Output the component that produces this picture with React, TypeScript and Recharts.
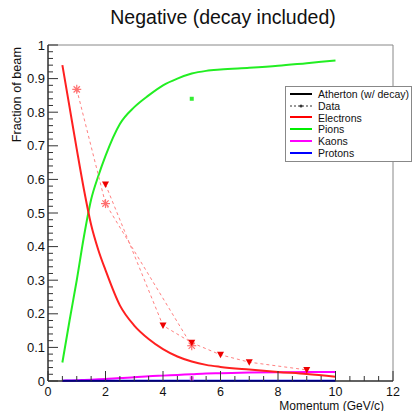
import { ComposedChart, Line, XAxis, YAxis, ReferenceArea, Label } from "recharts"

const FONT = "'Liberation Sans', Arial, Helvetica, sans-serif"

// model curves, fraction of beam vs momentum (GeV/c)
const momentum = [0.5, 0.75, 1, 1.25, 1.5, 1.75, 2, 2.5, 3, 3.5, 4, 4.5, 5, 5.5, 6, 7, 8, 9, 10]
const electrons = [0.94, 0.815, 0.69, 0.57, 0.465, 0.39, 0.33, 0.225, 0.165, 0.125, 0.095, 0.073, 0.058, 0.048, 0.042, 0.034, 0.027, 0.021, 0.013]
const pions = [0.055, 0.18, 0.3, 0.43, 0.54, 0.61, 0.67, 0.765, 0.815, 0.85, 0.88, 0.9, 0.915, 0.923, 0.927, 0.932, 0.938, 0.946, 0.954]
const kaons = [0.001, 0.0015, 0.002, 0.003, 0.004, 0.005, 0.006, 0.009, 0.011, 0.014, 0.016, 0.018, 0.02, 0.022, 0.023, 0.025, 0.026, 0.027, 0.027]
const protons = [0.001, 0.001, 0.001, 0.001, 0.001, 0.001, 0.001, 0.001, 0.001, 0.001, 0.001, 0.001, 0.001, 0.001, 0.001, 0.001, 0.001, 0.001, 0.001]

// measured points
const starMomentum = [1, 2, 5]
const starFraction = [0.868, 0.528, 0.105]
const triMomentum = [2, 4, 5, 6, 7, 9]
const triFraction = [0.585, 0.165, 0.114, 0.078, 0.056, 0.033]
const pionDataMomentum = [5]
const pionDataFraction = [0.84]
const kaonDataMomentum = [5]
const kaonDataFraction = [0.008]

const xMajor = [0, 2, 4, 6, 8, 10, 12]
const yMajor = [0, 0.1, 0.2, 0.3, 0.4, 0.5, 0.6, 0.7, 0.8, 0.9, 1]

const xTicks = Array.from({ length: 25 }, (_, i) => i / 2)
const yTicks = Array.from({ length: 51 }, (_, i) => Math.round(i * 2) / 100)

const legendItems = [
  { name: "Atherton (w/ decay)", color: "#000", kind: "line" },
  { name: "Data", color: "#000", kind: "data" },
  { name: "Electrons", color: "#ff0000", kind: "line" },
  { name: "Pions", color: "#00ee00", kind: "line" },
  { name: "Kaons", color: "#ff00ff", kind: "line" },
  { name: "Protons", color: "#0000ff", kind: "line" },
]

const pts = (xs: number[], ys: number[]) => xs.map((x, i) => ({ x, y: ys[i] }))

const XTick = (props: any) => {
  const { x, y, payload } = props
  const v = payload.value
  const major = xMajor.includes(v)
  return (
    <g>
      <line x1={x} x2={x} y1={y} y2={y - (major ? 10 : 5)} stroke="#333" strokeWidth={1} />
      {major && (
        <text x={x} y={y + 15} textAnchor="middle" fontSize={12.5} fontFamily={FONT} fill="#111">
          {v}
        </text>
      )}
    </g>
  )
}

const YTick = (props: any) => {
  const { x, y, payload } = props
  const v = payload.value
  const major = yMajor.some(m => Math.abs(m - v) < 1e-6)
  return (
    <g>
      <line x1={x} x2={x + (major ? 10 : 5)} y1={y} y2={y} stroke="#333" strokeWidth={1} />
      {major && (
        <text x={x - 3} y={y} dy="0.36em" textAnchor="end" fontSize={13} fontFamily={FONT} fill="#111">
          {v}
        </text>
      )}
    </g>
  )
}

const Star = (props: any) => {
  const { cx, cy } = props
  if (cx == null || cy == null) return <g />
  const r = 4.5
  const d = r * 0.7
  return (
    <g stroke="#ff7070" strokeWidth={1.2}>
      <line x1={cx - r} x2={cx + r} y1={cy} y2={cy} />
      <line x1={cx} x2={cx} y1={cy - r} y2={cy + r} />
      <line x1={cx - d} x2={cx + d} y1={cy - d} y2={cy + d} />
      <line x1={cx - d} x2={cx + d} y1={cy + d} y2={cy - d} />
    </g>
  )
}

const TriDown = (props: any) => {
  const { cx, cy } = props
  if (cx == null || cy == null) return <g />
  return (
    <polygon
      points={`${cx - 3.5},${cy - 3} ${cx + 3.5},${cy - 3} ${cx},${cy + 3.5}`}
      fill="#ee0000"
    />
  )
}

const Dot = (color: string) => (props: any) => {
  const { cx, cy } = props
  if (cx == null || cy == null) return <g />
  return <rect x={cx - 2} y={cy - 2} width={4} height={4} fill={color} />
}

const XTitle = (props: any) => {
  const { viewBox } = props
  return (
    <text
      x={viewBox.x + viewBox.width - 9}
      y={viewBox.y + 28.5}
      textAnchor="end"
      fontSize={12}
      fontFamily={FONT}
      fill="#111"
    >
      Momentum (GeV/c)
    </text>
  )
}

const YTitle = (props: any) => {
  const { viewBox } = props
  const x = 21
  const y = viewBox.y + 2
  return (
    <text
      x={x}
      y={y}
      transform={`rotate(-90 ${x} ${y})`}
      textAnchor="end"
      fontSize={12.7}
      fontFamily={FONT}
      fill="#111"
    >
      Fraction of beam
    </text>
  )
}

export default function App() {
  return (
    <div style={{ position: "absolute", left: 0, top: 0, width: 413, height: 411, background: "#fff" }}>
      <div
        style={{
          position: "absolute",
          left: 223,
          top: 8,
          transform: "translateX(-50%)",
          whiteSpace: "nowrap",
          fontFamily: FONT,
          fontSize: 19.5,
          lineHeight: 1,
          color: "#111",
        }}
      >
        Negative (decay included)
      </div>
      <ComposedChart width={413} height={411} margin={{ top: 45, right: 20, bottom: 0, left: 0 }}>
        <XAxis
          type="number"
          dataKey="x"
          domain={[0, 12]}
          ticks={xTicks}
          interval={0}
          height={30}
          tickSize={0}
          tickMargin={0}
          tickLine={false}
          tick={<XTick />}
          axisLine={{ stroke: "#000" }}
        >
          <Label content={<XTitle />} />
        </XAxis>
        <YAxis
          type="number"
          domain={[0, 1]}
          ticks={yTicks}
          interval={0}
          width={48}
          tickSize={0}
          tickMargin={0}
          tickLine={false}
          tick={<YTick />}
          axisLine={{ stroke: "#000" }}
        >
          <Label content={<YTitle />} />
        </YAxis>
        <ReferenceArea x1={0} x2={12} y1={0} y2={1} fill="none" stroke="#888" strokeWidth={1} />

        <Line data={pts(momentum, pions)} dataKey="y" type="monotone" stroke="#22ee22" strokeWidth={2} dot={false} isAnimationActive={false} />
        <Line data={pts(momentum, kaons)} dataKey="y" type="monotone" stroke="#ff00ff" strokeWidth={2} dot={false} isAnimationActive={false} />
        <Line data={pts(momentum, protons)} dataKey="y" type="monotone" stroke="#0000ff" strokeWidth={2} dot={false} isAnimationActive={false} />
        <Line data={pts(momentum, electrons)} dataKey="y" type="monotone" stroke="#ff2020" strokeWidth={2} dot={false} isAnimationActive={false} />

        <Line data={pts(starMomentum, starFraction)} dataKey="y" type="linear" stroke="#ff8080" strokeWidth={1} strokeDasharray="3 3" dot={<Star />} isAnimationActive={false} />
        <Line data={pts(triMomentum, triFraction)} dataKey="y" type="linear" stroke="#ff8080" strokeWidth={1} strokeDasharray="3 3" dot={<TriDown />} isAnimationActive={false} />
        <Line data={pts(pionDataMomentum, pionDataFraction)} dataKey="y" stroke="none" dot={Dot("#33ee33")} isAnimationActive={false} />
        <Line data={pts(kaonDataMomentum, kaonDataFraction)} dataKey="y" stroke="none" dot={Dot("#ff55ff")} isAnimationActive={false} />
      </ComposedChart>
      <div
        style={{
          position: "absolute",
          left: 285,
          top: 86,
          width: 127,
          height: 76,
          boxSizing: "border-box",
          border: "1px solid #888",
          background: "#fff",
          paddingTop: 1,
          fontFamily: FONT,
          fontSize: 10.5,
          color: "#111",
        }}
      >
        {legendItems.map(item => (
          <div key={item.name} style={{ display: "flex", alignItems: "center", height: 11.8 }}>
            <svg width={22} height={8} style={{ marginLeft: 4, marginRight: 6, flex: "none" }}>
              {item.kind === "line" ? (
                <line x1={0} x2={22} y1={4} y2={4} stroke={item.color} strokeWidth={2} />
              ) : (
                <g>
                  <line x1={0} x2={22} y1={4} y2={4} stroke="#333" strokeWidth={1} strokeDasharray="2 2" />
                  <circle cx={11} cy={4} r={1.5} fill="#333" />
                </g>
              )}
            </svg>
            <span style={{ whiteSpace: "nowrap" }}>{item.name}</span>
          </div>
        ))}
      </div>
    </div>
  )
}
